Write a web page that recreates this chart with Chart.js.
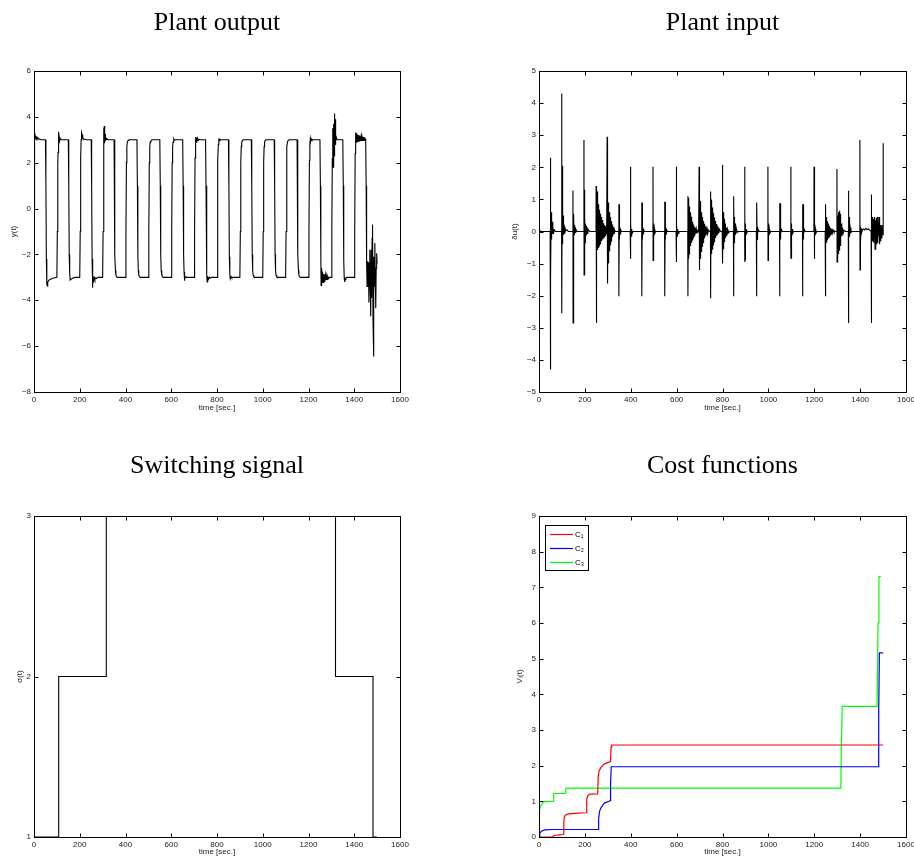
<!DOCTYPE html>
<html><head><meta charset="utf-8">
<script src="https://cdn.jsdelivr.net/npm/chart.js@4.4.1/dist/chart.umd.min.js"></script>
<style>
html,body{margin:0;padding:0;background:#fff;overflow:hidden;width:914px;height:862px}
#wrap{position:relative;width:914px;height:862px;overflow:hidden;background:#fff}
canvas{position:absolute}
</style></head><body><div id="wrap">
<canvas id="c1" width="457" height="431" style="left:0px;top:0px"></canvas>
<canvas id="c2" width="420" height="431" style="left:505px;top:0px"></canvas>
<canvas id="c3" width="457" height="419" style="left:0px;top:443px"></canvas>
<canvas id="c4" width="420" height="419" style="left:505px;top:443px"></canvas>
</div>
<script>
// ---------- data ----------
const timeTicks = [0,200,400,600,800,1000,1200,1400,1600];
const titles = ['Plant output','Plant input','Switching signal','Cost functions'];
const yLabels = ['y(t)','\u03B4u(t)','\u03C3(t)','V\u1D62(t)'];
const xLabel = 'time [sec.]';
const costLabels = ['C\u2081','C\u2082','C\u2083'];

// plant output y(t): [time, value]
const plantOutput = [
 [0,0],[1,1.6],[2,2.8],[3,3.15],[4,3.05],[5,3.18],[6,3.06],[7,3.14],[8,3.07],[10,3.12],[12,3.06],[14,3.1],[17,3.05],[20,3.06],[25,3.02],[32,3.0],[50,3.0],
 [52,1.2],[54,-2.2],[56,-3.3],[58,-3.38],[60,-3.22],[64,-3.13],[70,-3.09],[80,-3.05],[90,-3.02],[100,-3.0],
 [102,-1.0],[104,1.8],[105,2.45],[106,3.35],[107,2.55],[108,3.25],[109,2.85],[110,3.12],[112,2.95],[115,3.05],[120,3.0],[150,3.0],
 [152,1.0],[154,-2.0],[156,-2.8],[158,-3.12],[162,-3.08],[170,-3.03],[180,-3.0],[200,-3.0],
 [202,-1.0],[204,2.2],[206,3.0],[208,3.3],[210,3.22],[213,3.1],[218,3.03],[230,3.0],[250,3.0],
 [252,1.0],[254,-2.2],[256,-3.45],[257,-2.95],[258,-3.2],[259,-2.97],[260,-3.15],[261,-3.0],[262,-3.12],[264,-3.01],[266,-3.09],[269,-3.03],[273,-3.05],[280,-3.0],[300,-3.0],
 [302,-1.0],[304,2.4],[305,3.5],[306,2.8],[307,3.6],[308,2.85],[309,3.45],[310,2.9],[311,3.25],[312,2.95],[313,3.15],[315,3.02],[318,3.05],[324,3.0],[350,3.0],
 [352,1.0],[354,-2.0],[356,-2.7],[358,-2.9],[361,-2.97],[365,-3.0],[400,-3.0],
 [402,-1.0],[404,2.0],[406,2.7],[408,2.9],[411,2.97],[415,3.0],[450,3.0],
 [452,1.0],[454,-2.0],[456,-2.7],[458,-2.9],[461,-2.97],[465,-3.0],[500,-3.0],
 [502,-1.0],[504,2.0],[506,2.7],[508,2.9],[510,2.96],[511,2.92],[513,2.98],[517,3.0],[550,3.0],
 [552,1.0],[554,-2.0],[556,-2.7],[558,-2.9],[559,-2.86],[561,-2.97],[565,-3.0],[600,-3.0],
 [602,-1.0],[604,2.0],[606,2.7],[608,2.9],[611,3.03],[613,2.97],[617,3.0],[650,3.0],
 [652,1.0],[654,-2.0],[656,-2.75],[657,-3.15],[658,-2.95],[660,-3.06],[663,-2.98],[667,-3.0],[700,-3.0],
 [702,-1.0],[704,2.2],[705,2.8],[706,3.12],[707,2.88],[708,3.12],[709,2.9],[710,3.1],[711,2.93],[712,3.08],[714,2.96],[716,3.05],[719,2.98],[722,3.02],[728,3.0],[750,3.0],
 [752,1.0],[754,-2.2],[756,-2.9],[757,-3.2],[758,-2.95],[759,-3.12],[760,-2.97],[761,-3.1],[762,-2.98],[764,-3.07],[767,-3.0],[770,-3.04],[776,-3.0],[800,-3.0],
 [802,-1.0],[804,2.1],[806,2.8],[808,3.06],[810,2.96],[813,3.02],[817,3.0],[850,3.0],
 [852,1.0],[854,-2.1],[856,-2.8],[857,-3.05],[858,-2.93],[860,-3.05],[862,-2.97],[865,-3.02],[869,-3.0],[900,-3.0],
 [902,-1.0],[904,2.0],[906,2.7],[908,2.9],[911,2.97],[915,3.0],[950,3.0],
 [952,1.0],[954,-2.0],[956,-2.7],[958,-2.9],[961,-2.97],[965,-3.0],[1000,-3.0],
 [1002,-1.0],[1004,2.0],[1006,2.7],[1008,2.9],[1011,2.97],[1015,3.0],[1050,3.0],
 [1052,1.0],[1054,-2.0],[1056,-2.7],[1058,-2.9],[1061,-2.97],[1065,-3.0],[1100,-3.0],
 [1102,-1.0],[1104,2.0],[1106,2.7],[1108,2.9],[1111,2.97],[1115,3.0],[1150,3.0],
 [1152,1.0],[1154,-2.0],[1156,-2.7],[1158,-2.9],[1161,-2.97],[1165,-3.0],[1200,-3.0],
 [1202,-1.0],[1204,2.1],[1206,2.8],[1208,3.06],[1210,2.95],[1212,3.04],[1215,2.99],[1219,3.0],[1250,3.0],
 [1252,1.0],[1254,-2.2],[1255,-3.35],[1256,-2.6],[1257,-3.3],[1258,-2.7],[1259,-3.28],[1260,-2.75],[1261,-3.25],[1262,-2.8],[1264,-3.22],[1266,-2.85],[1268,-3.18],[1270,-2.88],[1272,-3.15],[1274,-2.9],[1276,-3.12],[1278,-2.92],[1281,-3.09],[1284,-2.95],[1288,-3.05],[1293,-3.0],[1300,-3.0],
 [1302,-1.0],[1304,2.2],[1305,3.4],[1306,1.85],[1307,3.5],[1308,1.8],[1309,3.3],[1310,2.1],[1311,3.7],[1312,2.3],[1313,3.9],[1314,2.5],[1315,4.15],[1316,2.8],[1317,3.9],[1318,2.9],[1319,3.4],[1320,2.95],[1322,3.1],[1325,3.0],[1350,3.0],
 [1352,1.0],[1354,-2.2],[1356,-3.0],[1358,-3.2],[1360,-3.1],[1363,-3.04],[1368,-3.0],[1400,-3.0],
 [1402,-1.0],[1404,2.4],[1406,3.32],[1408,2.9],[1410,3.28],[1412,2.92],[1414,3.22],[1416,2.9],[1418,3.2],[1420,2.92],[1422,3.18],[1424,2.93],[1426,3.15],[1428,2.95],[1430,3.14],[1432,2.95],[1434,3.13],[1436,2.95],[1438,3.12],[1440,2.97],[1442,3.12],[1444,2.98],[1446,3.1],[1448,3.0],[1450,3.05],
 [1452,1.0],[1454,-2.3],[1456,-3.4],[1458,-2.3],[1460,-3.35],[1462,-2.35],[1464,-4.1],[1466,-2.5],[1468,-1.8],[1470,-3.5],[1472,-4.7],[1474,-1.8],[1476,-3.9],[1478,-1.3],[1480,-0.7],[1482,-4.9],[1484,-6.45],[1486,-2.1],[1488,-3.4],[1490,-1.5],[1492,-3.1],[1494,-4.35],[1496,-2.6],[1498,-1.95],[1500,-2.4]
];

// plant input δu(t): [time, value]
const plantInput = [
 [0,0],[0.5,0.48],[1,-0.15],[2,0.1],[3,-0.05],[5,0.02],[8,0],
 [48.5,0],[49,2.3],[49.5,-4.3],[51,0.7],[52,-1.45],[53,0.6],[54,-0.25],[55,0.5],[56,-0.15],[57,0.3],[59,-0.08],[61,0.15],[64,-0.03],[67,0.05],[72,0],
 [98.5,0],[99,4.3],[99.5,-2.55],[101,2.05],[102,-0.4],[103,1.0],[104,-0.2],[105,0.5],[106,-0.1],[108,0.25],[110,-0.05],[113,0.12],[117,0.02],[122,0.05],[128,0],
 [147.5,0],[148,1.28],[148.5,-2.85],[150,0.55],[151,-0.3],[152,0.5],[153,-0.1],[155,0.2],[157,-0.03],[160,0.08],[165,0],
 [195.5,0],[196,2.85],[196.5,-1.35],[198,1.3],[199,-0.8],[200,0.5],[201,-0.35],[202,0.25],[203,-0.2],[205,0.18],[206,-0.12],[208,0.15],[210,-0.06],[213,0.08],[217,0.03],[222,0],
 [248.5,0],[249,1.42],[249.5,-2.85],[251,1.35],[252,-0.6],[253,1.25],[254,-0.58],[255,1.1],[256,-0.55],[257,0.95],[258,-0.5],[259,0.85],[260,-0.47],[261,0.75],[262,-0.44],[263,0.68],[264,-0.41],[265,0.6],[266,-0.38],[267,0.55],[268,-0.35],[269,0.5],[270,-0.32],[271,0.45],[272,-0.3],[273,0.4],[274,-0.27],[275,0.36],[276,-0.25],[277,0.32],[278,-0.22],[279,0.29],[280,-0.2],[281,0.26],[282,-0.18],[283,0.23],[284,-0.16],[285,0.2],[286,-0.14],[287,0.18],[288,-0.12],[289,0.16],[290,-0.1],[291,0.14],[292,-0.09],[293,0.12],[294,-0.08],[295,0.1],[296,-0.07],
 [297,2.95],[297.5,-1.55],[299,1.1],[300,-1.62],[301,0.9],[302,-1.0],[303,0.8],[304,-0.7],[305,0.7],[306,-0.6],[307,0.6],[308,-0.5],[309,0.52],[310,-0.42],[311,0.45],[312,-0.36],[313,0.38],[314,-0.3],[315,0.32],[316,-0.25],[317,0.27],[318,-0.2],[319,0.22],[320,-0.16],[321,0.18],[322,-0.12],[323,0.14],[324,-0.09],[325,0.1],[327,-0.05],[329,0.06],[332,0],
 [347.5,0],[348,0.85],[348.5,-2.02],[349.5,-0.1],[350,0.85],[351,-0.25],[352,0.15],[354,-0.08],[356,0.06],[360,0],
 [397.5,0],[398,2.02],[398.5,-0.85],[399.5,0.1],[400,-0.85],[401,0.25],[402,-0.15],[404,0.08],[406,-0.06],[410,0],
 [447.5,0],[448,0.9],[448.5,-2.02],[449.5,-0.1],[450,0.9],[451,-0.25],[452,0.15],[454,-0.08],[456,0.06],[460,0],
 [496.5,0],[497,2.02],[497.5,-0.9],[498.5,0.1],[499,-0.9],[500,0.25],[501,-0.15],[503,0.08],[505,-0.06],[509,0],
 [547.5,0],[548,0.93],[548.5,-2.02],[549.5,-0.1],[550,0.93],[551,-0.25],[552,0.15],[554,-0.08],[556,0.06],[560,0],
 [597.5,0],[598,2.02],[598.5,-0.95],[599.5,0.1],[600,-0.95],[601,0.25],[602,-0.15],[604,0.08],[606,-0.06],[610,0],
 [648.5,0],[649,1.1],[649.5,-2.02],[651,1.05],[652,-0.85],[653,0.9],[654,-0.7],[655,0.78],[656,-0.6],[657,0.68],[658,-0.52],[659,0.6],[660,-0.45],[661,0.52],[662,-0.4],[663,0.46],[664,-0.35],[665,0.4],[666,-0.3],[667,0.35],[668,-0.26],[669,0.3],[670,-0.22],[671,0.26],[672,-0.19],[673,0.22],[674,-0.16],[675,0.19],[676,-0.13],[678,0.15],[680,-0.1],[682,0.11],[684,-0.07],[686,0.08],[689,-0.04],[692,0.03],[696,0],
 [697.5,0],[698,2.02],[698.5,-1.2],[700,1.3],[701,-1.0],[702,0.95],[703,-0.85],[704,0.82],[705,-0.72],[706,0.7],[707,-0.62],[708,0.6],[709,-0.53],[710,0.52],[711,-0.46],[712,0.45],[713,-0.4],[714,0.39],[715,-0.34],[716,0.33],[717,-0.29],[718,0.28],[719,-0.25],[720,0.24],[721,-0.21],[722,0.2],[723,-0.18],[725,0.16],[727,-0.13],[729,0.12],[731,-0.09],[733,0.08],[736,-0.05],[739,0.04],[744,0],
 [747.5,0],[748,1.25],[748.5,-2.08],[750,1.0],[751,-0.7],[752,0.95],[753,-0.62],[754,0.85],[755,-0.55],[756,0.75],[757,-0.48],[758,0.66],[759,-0.42],[760,0.58],[761,-0.37],[762,0.5],[763,-0.32],[764,0.44],[765,-0.28],[766,0.38],[767,-0.24],[768,0.33],[769,-0.2],[770,0.28],[771,-0.17],[773,0.23],[775,-0.13],[777,0.17],[779,-0.09],[781,0.12],[784,-0.05],[787,0.06],[792,0],
 [798.5,0],[799,2.07],[799.5,-1.0],[801,0.7],[802,-0.8],[803,0.6],[804,-0.55],[805,0.5],[806,-0.42],[807,0.4],[808,-0.33],[809,0.32],[810,-0.26],[811,0.25],[812,-0.2],[814,0.18],[816,-0.13],[818,0.12],[820,-0.08],[823,0.06],[827,-0.03],[832,0],
 [847.5,0],[848,1.1],[848.5,-2.02],[850,0.8],[851,-0.35],[852,0.45],[853,-0.2],[855,0.25],[857,-0.1],[860,0.1],[864,-0.03],[868,0],
 [896.5,0],[897,2.02],[897.5,-0.95],[898.5,0.1],[899,-0.9],[900,0.25],[901,-0.15],[903,0.08],[905,-0.06],[909,0],
 [947.5,0],[948,0.9],[948.5,-2.02],[949.5,-0.1],[950,0.9],[951,-0.25],[952,0.15],[954,-0.08],[956,0.06],[960,0],
 [997.5,0],[998,2.02],[998.5,-0.9],[999.5,0.1],[1000,-0.88],[1001,0.25],[1002,-0.15],[1004,0.08],[1006,-0.06],[1010,0],
 [1048.5,0],[1049,0.88],[1049.5,-2.02],[1050.5,-0.1],[1051,0.88],[1052,-0.25],[1053,0.15],[1055,-0.08],[1057,0.06],[1061,0],
 [1097.5,0],[1098,2.02],[1098.5,-0.85],[1099.5,0.1],[1100,-0.85],[1101,0.25],[1102,-0.15],[1104,0.08],[1106,-0.06],[1110,0],
 [1148.5,0],[1149,0.85],[1149.5,-2.02],[1150.5,-0.1],[1151,0.85],[1152,-0.25],[1153,0.15],[1155,-0.08],[1157,0.06],[1161,0],
 [1198.5,0],[1199,2.02],[1199.5,-0.85],[1200.5,0.1],[1201,-0.85],[1202,0.25],[1203,-0.15],[1205,0.08],[1207,-0.06],[1211,0],
 [1247.5,0],[1248,0.85],[1248.5,-2.02],[1250,0.8],[1251,-0.4],[1252,0.45],[1253,-0.35],[1254,0.38],[1255,-0.3],[1256,0.32],[1257,-0.27],[1258,0.28],[1259,-0.24],[1260,0.25],[1261,-0.21],[1262,0.22],[1263,-0.18],[1264,0.19],[1265,-0.16],[1266,0.16],[1267,-0.14],[1268,0.14],[1270,-0.11],[1272,0.11],[1274,-0.08],[1276,0.08],[1279,-0.05],[1282,0.05],[1286,-0.02],[1290,0],
 [1298.5,0],[1299,1.95],[1299.5,-0.95],[1301,0.5],[1302,-0.85],[1303,0.45],[1304,-0.5],[1305,0.6],[1306,-0.7],[1307,0.45],[1308,-0.4],[1309,0.65],[1310,-0.6],[1311,0.4],[1312,-0.3],[1313,0.55],[1314,-0.45],[1315,0.3],[1316,-0.2],[1318,0.25],[1320,-0.15],[1323,0.12],[1326,-0.06],[1330,0.04],[1336,0],
 [1348.5,0],[1349,1.27],[1349.5,-2.85],[1351,0.5],[1352,-0.15],[1353,0.45],[1355,-0.1],[1357,0.12],[1360,-0.03],[1364,0],
 [1398.5,0],[1399,2.85],[1399.5,-1.2],[1401,0.15],[1402,-0.35],[1404,0.1],[1406,-0.05],[1410,0.05],[1415,0.08],[1420,0.05],[1425,0.1],[1430,0.06],[1436,0.08],[1442,0.04],[1448,0],
 [1448.5,0],[1449,1.15],[1449.5,-2.85],[1451,0.35],[1452,-0.1],[1454,0.45],[1455,-0.3],[1457,0.3],[1458,-0.35],[1460,0.4],[1461,-0.2],[1463,0.45],[1465,-0.55],[1467,0.35],[1469,-0.3],[1471,0.42],[1473,-0.4],[1475,0.45],[1477,-0.35],[1479,0.3],[1481,-0.15],[1483,0.45],[1485,-0.4],[1487,0.2],[1489,-0.3],[1491,0.15],[1493,-0.2],[1495,0.2],[1497,-0.1],[1499,0.1],
 [1500,0.1],[1500.3,2.75],[1500.7,-0.12],[1501,0.2]
];

// switching signal σ(t)
const switching = [[0,1],[108,1],[108,2],[316,2],[316,3],[1318,3],[1318,2],[1482,2],[1482,1],[1500,1]];

// cost functions V_i(t)
const costC1 = [[0,0],[60,0],[62,0.03],[70,0.05],[90,0.06],[106,0.07],[108,0.4],[110,0.55],[115,0.62],[130,0.65],[170,0.67],[206,0.68],[208,1.05],[212,1.15],[220,1.2],[256,1.21],[258,1.7],[262,1.85],[270,1.95],[285,2.05],[305,2.1],[312,2.12],[314,2.52],[317,2.58],[1500,2.58]];
const costC2 = [[0,0],[3,0.1],[10,0.16],[25,0.2],[60,0.21],[258,0.21],[260,0.5],[264,0.72],[270,0.82],[285,0.95],[305,1.0],[310,1.02],[312,1.5],[315,1.97],[1479,1.97],[1481,3.5],[1484,5.16],[1500,5.16]];
const costC3 = [[0,0],[1,0.45],[3,0.75],[8,0.88],[15,0.95],[25,0.99],[62,1.0],[64,1.22],[115,1.22],[117,1.37],[1316,1.37],[1318,2.5],[1322,3.66],[1474,3.66],[1478,6.0],[1482,7.3],[1490,7.3]];

// ---------- rendering ----------
Chart.defaults.font.family = "'Liberation Sans', 'DejaVu Sans', sans-serif";
Chart.defaults.color = '#222';

const minus = v => String(v).replace('-', '\u2212');

const matlabAxes = {
  id: 'matlabAxes',
  afterDraw(chart) {
    const {ctx, chartArea: a, scales} = chart;
    const L = Math.round(a.left) + 0.5, R = Math.round(a.right) + 0.5;
    const T = Math.round(a.top) + 0.5, B = Math.round(a.bottom) + 0.5;
    ctx.save();
    ctx.strokeStyle = '#000'; ctx.lineWidth = 1;
    ctx.beginPath();
    scales.x.ticks.forEach(t => {
      const px = Math.round(scales.x.getPixelForValue(t.value)) + 0.5;
      ctx.moveTo(px, B); ctx.lineTo(px, B - 4);
      ctx.moveTo(px, T); ctx.lineTo(px, T + 4);
    });
    scales.y.ticks.forEach(t => {
      const py = Math.round(scales.y.getPixelForValue(t.value)) + 0.5;
      ctx.moveTo(L, py); ctx.lineTo(L + 4, py);
      ctx.moveTo(R, py); ctx.lineTo(R - 4, py);
    });
    ctx.stroke();
    ctx.strokeRect(L, T, R - L, B - T);
    ctx.restore();
  }
};

const boxedLegend = {
  id: 'boxedLegend',
  afterDraw(chart) {
    const {ctx, chartArea: a} = chart;
    const x0 = Math.round(a.left) + 6, y0 = Math.round(a.top) + 9, w = 43, h = 45;
    ctx.save();
    ctx.fillStyle = '#fff'; ctx.fillRect(x0, y0, w, h);
    ctx.strokeStyle = '#000'; ctx.lineWidth = 1; ctx.strokeRect(x0 + 0.5, y0 + 0.5, w, h);
    chart.data.datasets.forEach((ds, i) => {
      const y = Math.round(y0 + 8.5 + i * 14.2) + 0.5;
      ctx.strokeStyle = ds.borderColor; ctx.lineWidth = 1.2;
      ctx.beginPath(); ctx.moveTo(x0 + 5, y); ctx.lineTo(x0 + 28, y); ctx.stroke();
      ctx.fillStyle = '#000'; ctx.font = "8px 'Liberation Sans', 'DejaVu Sans', sans-serif";
      ctx.textBaseline = 'middle'; ctx.textAlign = 'left';
      ctx.fillText(ds.label, x0 + 30, y);
    });
    ctx.restore();
  }
};

function makeChart(id, o) {
  const plugins = [matlabAxes];
  if (o.legend) plugins.push(boxedLegend);
  return new Chart(document.getElementById(id), {
    type: 'scatter',
    data: {
      datasets: o.series.map(s => ({
        label: s.label,
        data: s.data.map(p => ({x: p[0], y: p[1]})),
        borderColor: s.color, backgroundColor: s.color,
        borderWidth: s.width || 1.1, showLine: true, pointRadius: 0, pointHoverRadius: 0,
        fill: false, tension: 0
      }))
    },
    options: {
      responsive: false, animation: false, devicePixelRatio: 1,
      events: [],
      layout: {padding: {left: 0, right: o.padRight, top: 0, bottom: 0}},
      plugins: {
        legend: {display: false},
        tooltip: {enabled: false},
        title: {
          display: true, text: o.title, fullSize: false, color: '#000',
          font: {family: "'Liberation Serif', 'DejaVu Serif', serif", size: 26, weight: 'normal'},
          padding: {top: o.titleTop, bottom: o.titleBottom}
        }
      },
      scales: {
        x: {
          type: 'linear', min: 0, max: 1600,
          afterBuildTicks: s => { s.ticks = timeTicks.map(v => ({value: v})); },
          ticks: {autoSkip: false, maxRotation: 0, padding: 3, font: {size: 8}, color: '#222', callback: minus},
          grid: {display: false, drawTicks: false, tickLength: 0},
          border: {display: false},
          title: {display: true, text: xLabel, font: {size: 8}, color: '#222', padding: {top: 0, bottom: o.xTitlePad}},
          afterFit: s => { s.height = o.xHeight; }
        },
        y: {
          type: 'linear', min: o.yMin, max: o.yMax,
          afterBuildTicks: s => { s.ticks = o.yTicks.map(v => ({value: v})); },
          ticks: {autoSkip: false, padding: 3, font: {size: 8}, color: '#222', callback: minus},
          grid: {display: false, drawTicks: false, tickLength: 0},
          border: {display: false},
          title: {display: true, text: o.yLabel, font: {size: 8}, color: '#222', padding: {top: o.yTitlePad, bottom: 0}},
          afterFit: s => { s.width = 34; }
        }
      }
    },
    plugins
  });
}

makeChart('c1', {
  title: titles[0], yLabel: yLabels[0], padRight: 57, titleTop: 7.4, titleBottom: 32.4,
  xHeight: 39, xTitlePad: 18.2, yTitlePad: 9.2,
  yMin: -8, yMax: 6, yTicks: [-8,-6,-4,-2,0,2,4,6],
  series: [{label: 'y(t)', data: plantOutput, color: '#000'}]
});
makeChart('c2', {
  title: titles[1], yLabel: yLabels[1], padRight: 19, titleTop: 7.4, titleBottom: 32.4,
  xHeight: 39, xTitlePad: 18.2, yTitlePad: 5.2,
  yMin: -5, yMax: 5, yTicks: [-5,-4,-3,-2,-1,0,1,2,3,4,5],
  series: [{label: '\u03B4u(t)', data: plantInput, color: '#000'}]
});
makeChart('c3', {
  title: titles[2], yLabel: yLabels[2], padRight: 57, titleTop: 7.4, titleBottom: 34.4,
  xHeight: 25, xTitlePad: 5.2, yTitlePad: 15.2,
  yMin: 1, yMax: 3, yTicks: [1,2,3],
  series: [{label: '\u03C3(t)', data: switching, color: '#000'}]
});
makeChart('c4', {
  title: titles[3], yLabel: yLabels[3], padRight: 19, titleTop: 7.4, titleBottom: 34.4,
  xHeight: 25, xTitlePad: 5.2, yTitlePad: 10.2,
  yMin: 0, yMax: 9, yTicks: [0,1,2,3,4,5,6,7,8,9], legend: true,
  series: [
    {label: costLabels[0], data: costC1, color: '#ff0000', width: 1.2},
    {label: costLabels[1], data: costC2, color: '#0000ff', width: 1.2},
    {label: costLabels[2], data: costC3, color: '#00ff00', width: 1.2}
  ]
});
</script>
</body></html>
